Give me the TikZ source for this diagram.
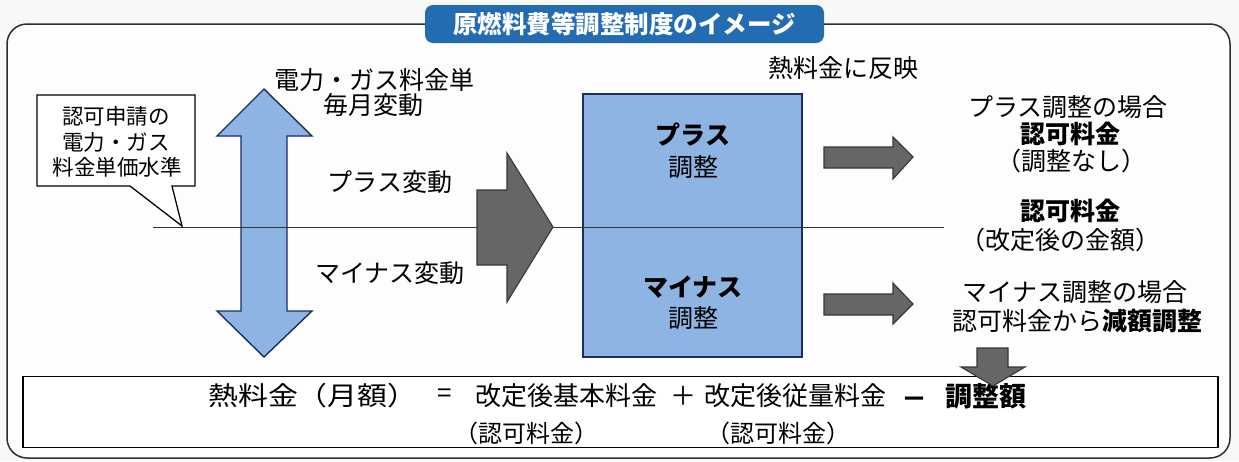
\documentclass[tikz,border=0pt]{standalone}
\usepackage{graphicx}
\usepackage{fontspec}
\setmainfont{Noto Sans CJK JP}
\definecolor{bluefill}{RGB}{142,180,227}
\definecolor{navy}{RGB}{28,46,96}
\definecolor{tabblue}{RGB}{36,108,178}
\definecolor{grayfill}{RGB}{102,102,102}
\definecolor{grayline}{RGB}{55,55,55}
\definecolor{frame}{RGB}{45,45,45}
\definecolor{bg}{RGB}{248,248,248}
\tikzset{
  txt/.style={inner sep=0pt, font=\fontsize{25}{29}\selectfont, text=black},
  smalltxt/.style={inner sep=0pt, font=\fontsize{21.5}{25}\selectfont, text=black},
  boldtxt/.style={txt, font=\fontsize{25}{29}\selectfont\bfseries},
  ftxt/.style={inner sep=0pt, font=\fontsize{26}{30}\selectfont, text=black},
  subtxt/.style={inner sep=0pt, font=\fontsize{24}{28}\selectfont, text=black},
  bluearrow/.style={fill=bluefill, draw=navy, line width=1.4pt, line join=miter},
  grayarrow/.style={fill=grayfill, draw=grayline, line width=1.1pt, line join=miter},
}
\begin{document}
\begin{tikzpicture}[x=1pt,y=-1pt]
\useasboundingbox (0,0) rectangle (1239,461);
\fill[bg] (0,0) rectangle (1239,461);
% outer frame
\draw[frame, line width=1.5pt, rounded corners=20pt, fill=white!70!bg] (7,24) rectangle (1230,458);
% title tab
\node[fill=tabblue, rounded corners=8pt, minimum width=399pt, minimum height=38pt, inner sep=0pt,
  text=white, font=\fontsize{24.5}{28}\selectfont\bfseries] (title) at (624.5,24) {原燃料費等調整制度のイメージ};
% blue double arrow
\draw[bluearrow] (264,89) -- (312,136) -- (287,136) -- (287,311) -- (312,311) -- (264,357)
  -- (217,311) -- (241,311) -- (241,136) -- (217,136) -- cycle;
% blue box
\node[fill=bluefill, draw=navy, line width=1.4pt, minimum width=219pt, minimum height=263pt, inner sep=0pt] (adj) at (692.5,225.5) {};
% horizontal base line
\coordinate (L0) at (153,227);
\coordinate (L1) at (944,227);
\draw[black!80, line width=0.9pt] (L0) -- (L1);
% callout
\coordinate (tip) at (182,226);
\draw[black, line width=1.3pt, fill=white, line join=miter] (37,95) -- (195,95) -- (195,186) -- (172,186) -- (tip) -- (130,186) -- (37,186) -- cycle;
\node[smalltxt] (c1) at (116,116) {認可申請の};
\node[smalltxt] (c2) at (116,142) {電力・ガス};
\node[smalltxt] (c3) at (117,167) {料金単価水準};
% big gray arrow
\draw[grayarrow] (477,190) -- (507,190) -- (507,153) -- (553,227) -- (507,302) -- (507,265) -- (477,265) -- cycle;
% small gray arrows
\draw[grayarrow] (824,147) -- (893,147) -- (893,137) -- (913,157) -- (893,179) -- (893,168) -- (824,168) -- cycle;
\draw[grayarrow] (824,294) -- (893,294) -- (893,283) -- (913,304) -- (893,324) -- (893,315) -- (824,315) -- cycle;
% texts left
\node[txt] (t1) at (374,80) {電力・ガス料金単};
\node[txt] (t2) at (373,105) {毎月変動};
\node[txt] (plus) at (390,182) {プラス変動};
\node[txt] (minus) at (390,273) {マイナス変動};
% box texts
\node[boldtxt] (b1) at (693,135) {プラス};
\node[txt] (b2) at (693,167) {調整};
\node[boldtxt] (b3) at (693,287) {マイナス};
\node[txt] (b4) at (693,318) {調整};
% right texts
\node[txt] (r0) at (843,68) {熱料金に反映};
\node[txt] (r1) at (1068,107) {プラス調整の場合};
\node[boldtxt] (r2) at (1070,134) {認可料金};
\node[txt] (r3) at (1071,161) {（調整なし）};
\node[boldtxt] (r4) at (1070,211) {認可料金};
\node[txt] (r5) at (1060,240) {（改定後の金額）};
\node[txt] (r6) at (1075,292) {マイナス調整の場合};
\node[txt] (r7) at (1077,321) {認可料金から\textbf{減額調整}};
% bottom formula box
\node[draw=black, line width=1.8pt, fill=white, minimum width=1195pt, minimum height=71pt, inner sep=0pt] (formula) at (620.5,412) {};
\node[ftxt, anchor=west] (f1) at (208,396) {\scalebox{1.15}[1]{熱料金（月額）}};
\node[ftxt] (f2) at (445,396) {=};
\node[ftxt, anchor=west] (f3) at (475,396) {改定後基本料金};
\node[ftxt] (f4) at (683,396) {＋};
\node[ftxt, anchor=west] (f5) at (704,396) {改定後従量料金};
\node[ftxt, font=\fontsize{26}{30}\selectfont\bfseries] (f6) at (914,403) {－};
\node[ftxt, anchor=west, font=\fontsize{27}{30}\selectfont\bfseries] (f7) at (945,396) {調整額};
\node[subtxt] (s1) at (526,433) {（認可料金）};
\node[subtxt] (s2) at (778,433) {（認可料金）};
% down gray arrow
\draw[grayarrow] (977,348) -- (1008,348) -- (1008,367) -- (1025,367) -- (993,386) -- (961,367) -- (977,367) -- cycle;
\end{tikzpicture}
\end{document}
